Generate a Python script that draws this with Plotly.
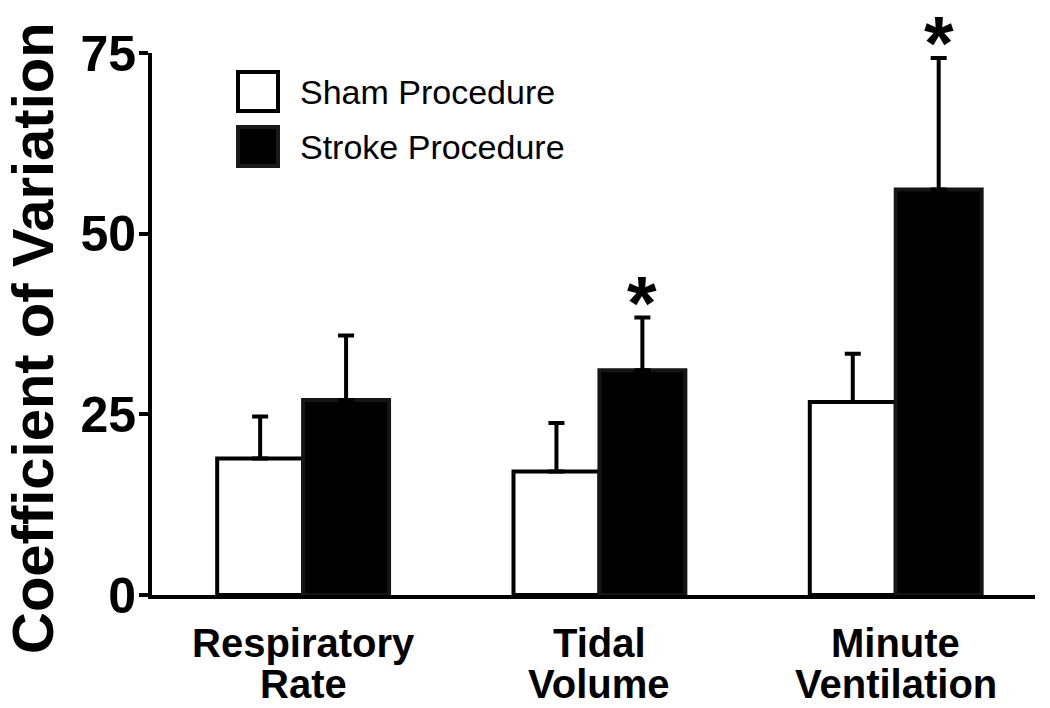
import plotly.graph_objects as go

categories = ["Respiratory Rate", "Tidal Volume", "Minute Ventilation"]
label_line1 = ["Respiratory", "Tidal", "Minute"]
label_line2 = ["Rate", "Volume", "Ventilation"]
sham_values = [18.9, 17.1, 26.7]
sham_errors = [5.8, 6.7, 6.7]
stroke_values = [27.0, 31.1, 56.1]
stroke_errors = [8.9, 7.3, 18.2]
stroke_significant = [False, True, True]
y_ticks = [0, 25, 50, 75]
series_names = ["Sham Procedure", "Stroke Procedure"]
y_title = "Coefficient of Variation"

FONT = "Liberation Sans, Arial, Helvetica, sans-serif"

# plot area in pixels (for legend / title placement)
L, R, T, B = 152, 1035, 53, 595
W_FIG, H_FIG = 1050, 708


def px(x):
    return (x - L) / (R - L)


def py(y):
    return (B - y) / (B - T)


BAR_GAP = 0.42
bar_w = (1 - BAR_GAP) / 2

fig = go.Figure()
fig.add_trace(go.Bar(
    x=categories, y=sham_values, name=series_names[0],
    marker=dict(color="white", line=dict(color="black", width=4)),
    error_y=dict(type="data", array=sham_errors, arrayminus=[0] * 3,
                 symmetric=False, color="black", thickness=4, width=8),
    showlegend=False,
))
fig.add_trace(go.Bar(
    x=categories, y=stroke_values, name=series_names[1],
    marker=dict(color="black", line=dict(color="#151515", width=4)),
    error_y=dict(type="data", array=stroke_errors, arrayminus=[0] * 3,
                 symmetric=False, color="black", thickness=4, width=8),
    showlegend=False,
))

annotations = []
for i, (v, e, s) in enumerate(zip(stroke_values, stroke_errors, stroke_significant)):
    if s:
        annotations.append(dict(
            x=i + bar_w / 2, y=v + e, xref="x", yref="y", text="*",
            showarrow=False, yanchor="bottom", yshift=-29,
            font=dict(family=FONT, size=76, color="black", weight="bold"),
        ))

for i, (a, b) in enumerate(zip(label_line1, label_line2)):
    annotations.append(dict(x=i, y=py(643), xref="x", yref="paper", text=a,
                            showarrow=False, yanchor="middle",
                            font=dict(family=FONT, size=40, color="black", weight="bold")))
    annotations.append(dict(x=i, y=py(684), xref="x", yref="paper", text=b,
                            showarrow=False, yanchor="middle",
                            font=dict(family=FONT, size=40, color="black", weight="bold")))

# y-axis title
annotations.append(dict(x=px(32), y=py(338), xref="paper", yref="paper", text=y_title,
                        showarrow=False, textangle=-90, xanchor="center", yanchor="middle",
                        borderpad=0,
                        font=dict(family=FONT, size=58, color="black", weight="bold")))

# legend
shapes = [
    dict(type="rect", xref="paper", yref="paper", x0=px(238), x1=px(278),
         y0=py(72), y1=py(111), fillcolor="white", line=dict(color="black", width=4)),
    dict(type="rect", xref="paper", yref="paper", x0=px(238), x1=px(278),
         y0=py(127), y1=py(166), fillcolor="black", line=dict(color="#1a1a1a", width=4)),
]
for name, yc in zip(series_names, [92, 147]):
    annotations.append(dict(x=px(298), y=py(yc), xref="paper", yref="paper", text=name,
                            showarrow=False, xanchor="left", yanchor="middle",
                            font=dict(family=FONT, size=34, color="black")))

fig.update_layout(
    width=W_FIG, height=H_FIG,
    margin=dict(l=L, r=W_FIG - R, t=T, b=H_FIG - B, autoexpand=False),
    paper_bgcolor="white", plot_bgcolor="white",
    barmode="group", bargap=BAR_GAP, bargroupgap=0,
    annotations=annotations, shapes=shapes,
    xaxis=dict(range=[-0.51, 2.47], showline=True, linewidth=4, linecolor="black",
               showticklabels=False, ticks="", showgrid=False, zeroline=False),
    yaxis=dict(range=[0, 75], tickvals=y_ticks, showline=True, linewidth=4,
               linecolor="black", ticks="outside", ticklen=9, tickwidth=4,
               tickcolor="black", showgrid=False, zeroline=False,
               ticklabelstandoff=-7,
               tickfont=dict(family=FONT, size=50, color="black", weight="bold")),
)

fig.write_html("out.html", config={"displayModeBar": False},
               post_script="document.body.style.margin='0px';")
